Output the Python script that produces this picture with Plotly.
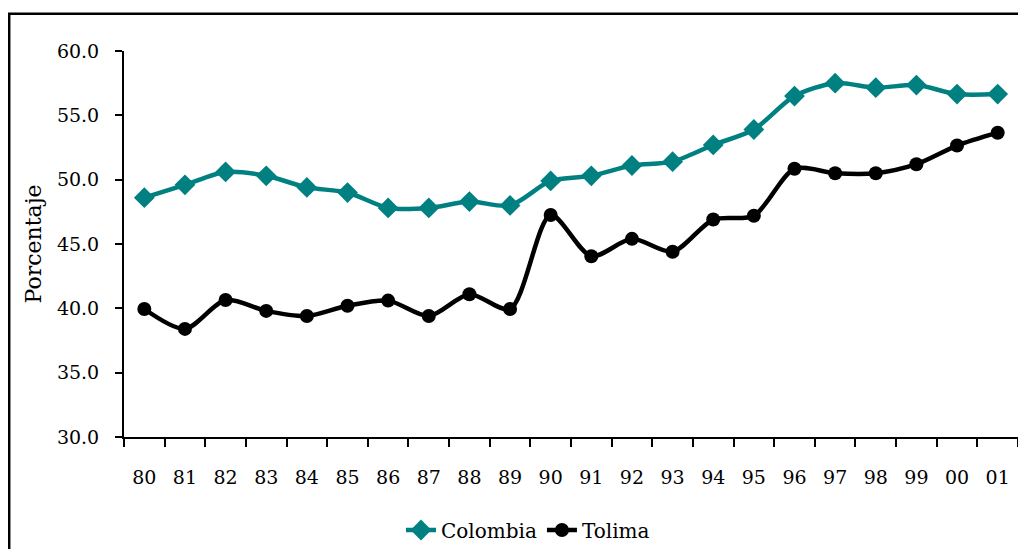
import plotly.graph_objects as go

years = ["80", "81", "82", "83", "84", "85", "86", "87", "88", "89", "90",
         "91", "92", "93", "94", "95", "96", "97", "98", "99", "00", "01"]
colombia = [48.6, 49.6, 50.6, 50.3, 49.4, 49.0, 47.8, 47.8, 48.3, 48.0, 49.9,
            50.3, 51.1, 51.4, 52.7, 53.9, 56.5, 57.5, 57.15, 57.35, 56.65, 56.65]
tolima = [39.95, 38.4, 40.65, 39.8, 39.4, 40.2, 40.6, 39.4, 41.1, 39.95, 47.25,
          44.05, 45.4, 44.4, 46.9, 47.2, 50.85, 50.5, 50.5, 51.2, 52.65, 53.65]
yticks = [30, 35, 40, 45, 50, 55, 60]

FONT = "DejaVu Serif"

fig = go.Figure()
fig.add_trace(go.Scatter(
    x=years, y=colombia, name="Colombia", mode="lines+markers",
    line=dict(color="#008080", width=4.5, shape="spline", smoothing=0.8),
    marker=dict(symbol="diamond", size=16, color="#008080"),
))
fig.add_trace(go.Scatter(
    x=years, y=tolima, name="Tolima", mode="lines+markers",
    line=dict(color="#000000", width=4.5, shape="spline", smoothing=0.8),
    marker=dict(symbol="circle", size=14, color="#000000"),
))

# page has an 8px body margin; figure coords = page coords - 8
OFF = 8
W, H = 1018, 541
L, T = 124 - OFF, 51 - OFF
R = W - (1018 - OFF)
B = H - (437 - OFF)
pw = W - L - R
ph = H - T - B

def px(x):
    return (x - OFF - L) / pw

def py(y):
    return (H - B - (y - OFF)) / ph

fig.update_layout(
    width=W, height=H,
    margin=dict(l=L, r=R, t=T, b=B, autoexpand=False),
    paper_bgcolor="white", plot_bgcolor="white",
    font=dict(family=FONT, size=19, color="#000000"),
    showlegend=True,
    legend=dict(orientation="h", xref="container", yref="container",
                x=(528 - OFF) / W, xanchor="center",
                y=(H - (530 - OFF)) / H, yanchor="middle",
                font=dict(family=FONT, size=20), tracegroupgap=0,
                bgcolor="rgba(0,0,0,0)"),
    xaxis=dict(
        type="category", range=[-0.5, 21.5], tickson="boundaries",
        ticks="outside", ticklen=8, tickwidth=2, tickcolor="#000000",
        showline=True, linecolor="#000000", linewidth=2,
        showgrid=False, zeroline=False, ticklabelstandoff=22,
        tickfont=dict(family=FONT, size=19),
    ),
    yaxis=dict(
        range=[30, 60], tickvals=yticks, ticktext=[f"{v:.1f}" for v in yticks],
        ticks="outside", ticklen=7, tickwidth=2, tickcolor="#000000",
        showline=True, linecolor="#000000", linewidth=2,
        showgrid=False, zeroline=False, ticklabelstandoff=12,
        tickfont=dict(family=FONT, size=19),
        title=dict(text="Porcentaje", font=dict(family=FONT, size=22), standoff=9),
    ),
    shapes=[dict(type="rect", xref="paper", yref="paper",
                 x0=px(9.2), x1=px(1060), y0=py(620), y1=py(13.7),
                 line=dict(color="#000000", width=2.5), fillcolor="rgba(0,0,0,0)",
                 layer="below")],
)

fig.write_html("out.html")
